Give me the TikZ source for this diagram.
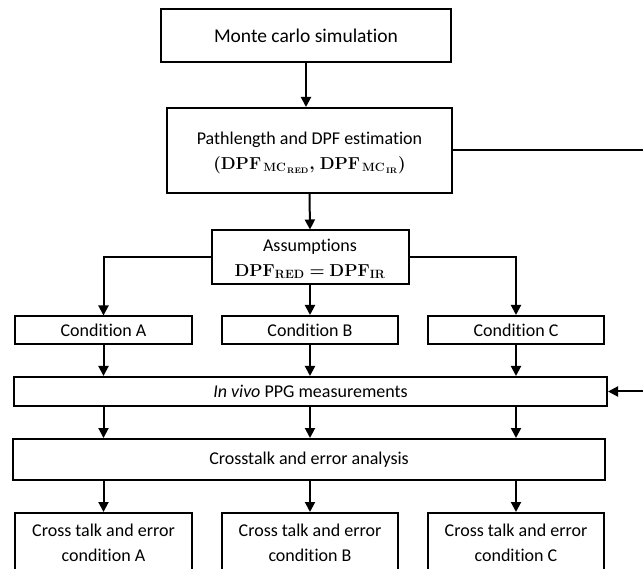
\documentclass[tikz,border=0pt]{standalone}
\usepackage{amsmath,amssymb}
\usepackage[no-math]{fontspec}
\setmainfont{Carlito}[Ligatures=NoCommon]
\usepackage{tikz}
\usetikzlibrary{arrows.meta}

\newcommand{\dpfmc}[1]{\mathbf{DPF}_{\,\mathbf{MC}_{\,\mathbf{#1}}}}
\newcommand{\estmath}{{\fontsize{16.5}{25}\selectfont\smash[b]{$\boldsymbol{(}\dpfmc{RED}\boldsymbol{,}\;\dpfmc{IR}\boldsymbol{)}$}}}
\newcommand{\assmath}{{\fontsize{16.5}{25}\selectfont\smash[b]{$\mathbf{DPF}_{\mathbf{RED}}\boldsymbol{=}\mathbf{DPF}_{\mathbf{IR}}$}}}

\begin{document}
\begin{tikzpicture}[x=1pt,y=-1pt,
    box/.style={draw,line width=2pt,align=center,inner sep=0pt,
      font=\fontsize{18}{25}\selectfont},
    arr/.style={line width=2pt,-{Triangle[length=10pt,width=10pt]}},
    lin/.style={line width=2pt}]
    % Page frame
    \useasboundingbox (0,0) rectangle (643,569);
    \clip (0,0) rectangle (643,569);
    % Top boxes
    \node[box,minimum width=290,minimum height=53,font=\fontsize{19.5}{25}\selectfont] (mc) at (306,35.5) {Monte carlo simulation};
    \node[box,minimum width=285,minimum height=85] (est) at (309.5,150.5) {Pathlength and DPF estimation\\\estmath};
    \node[box,minimum width=197,minimum height=54] (assum) at (310,257.5) {Assumptions\\\assmath};
    % Conditions
    \node[box,minimum width=177,minimum height=28] (condA) at (103.5,330.5) {Condition A};
    \node[box,minimum width=176,minimum height=28] (condB) at (310,330) {Condition B};
    \node[box,minimum width=176,minimum height=28] (condC) at (516,330) {Condition C};
    % Wide boxes
    \node[box,minimum width=593,minimum height=29] (invivo) at (310.5,391.5) {\textit{In vivo} PPG measurements};
    \node[box,minimum width=592,minimum height=41] (cross) at (309,459.5) {Crosstalk and error analysis};
    % Results
    \node[box,minimum width=177,minimum height=60] (resA) at (103.5,543) {Cross talk and error\\condition A};
    \node[box,minimum width=176,minimum height=60] (resB) at (310,543) {Cross talk and error\\condition B};
    \node[box,minimum width=176,minimum height=60] (resC) at (516,543) {Cross talk and error\\condition C};
    \coordinate (rtop) at (646,150.5);
    % Connectors
    \draw[arr] (mc.south) -- (mc.south |- est.north);
    \draw[arr] (est.south) -- (assum.north);
    \draw[arr] (assum.west) -| (condA.north);
    \draw[arr] (assum.south) -- (condB.north);
    \draw[arr] (assum.east) -| (condC.north);
    \foreach \c in {A,B,C} {
      \draw[arr] (cond\c.south) -- (cond\c.south |- invivo.north);
      \draw[arr] (cond\c.south |- invivo.south) -- (cond\c.south |- cross.north);
      \draw[arr] (res\c.north |- cross.south) -- (res\c.north);
    }
    \draw[lin] (est.east) -- (rtop);
    \draw[arr] (rtop) |- (invivo.east);
\end{tikzpicture}
\end{document}
